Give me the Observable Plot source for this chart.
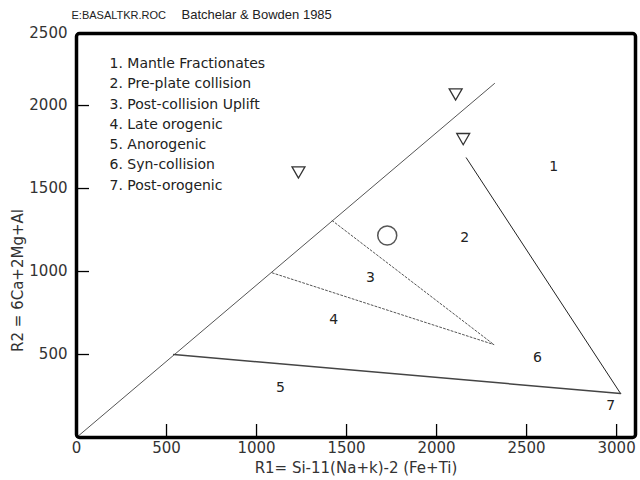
<!DOCTYPE html>
<html><head><meta charset="utf-8">
<script src="https://cdn.jsdelivr.net/npm/d3@7"></script>
<script src="https://cdn.jsdelivr.net/npm/@observablehq/plot@0.6"></script>
<style>body{margin:0;background:#fff;} #chart{width:640px;height:480px;}</style>
</head><body><div id="chart"></div>
<script>
const fileName = "E:BASALTKR.ROC";
const title = "Batchelar & Bowden 1985";
const xLabel = "R1= Si-11(Na+k)-2 (Fe+Ti)";
const yLabel = "R2 = 6Ca+2Mg+Al";
const xTicks = [0, 500, 1000, 1500, 2000, 2500, 3000];
const yTicks = [500, 1000, 1500, 2000];
const yTopLabel = "2500";
const xDomain = [0, 3105];
const yDomain = [0, 2434];

const legendItems = [
  "1. Mantle Fractionates",
  "2. Pre-plate collision",
  "3. Post-collision Uplift",
  "4. Late orogenic",
  "5. Anorogenic",
  "6. Syn-collision",
  "7. Post-orogenic"
];

// field boundaries (R1, R2)
const diagonalX = [0, 2322], diagonalY = [0, 2133];
const bound12X = [2165, 3022], bound12Y = [1685, 265];
const bound45X = [540, 3022], bound45Y = [500, 265];
const dash23X = [1420, 2318], dash23Y = [1307, 560];
const dash34X = [1087, 2318], dash34Y = [992, 560];

// samples
const triX = [2106, 2148, 1233];
const triY = [2078, 1809, 1608];
const circX = [1726];
const circY = [1217];

// field numbers
const fieldNames = ["1", "2", "3", "4", "5", "6", "7"];
const fieldX = [2650, 2156, 1633, 1428, 1133, 2561, 2967];
const fieldY = [1633, 1205, 964, 711, 301, 482, 193];

const toPts = (xs, ys) => xs.map((x, i) => ({x, y: ys[i]}));
const font = "DejaVu Sans, sans-serif";
const fmt = d => String(d);

const W = 640, H = 480, mL = 76, mT = 33, mR = 5, mB = 43;
const tickLen = 13; // px, inward ticks

const chart = Plot.plot({
  width: W, height: H,
  marginLeft: mL, marginTop: mT, marginRight: mR, marginBottom: mB,
  style: {fontFamily: font, fontSize: "14px", color: "#222", background: "#fff"},
  x: {domain: xDomain},
  y: {domain: yDomain},
  marks: [
    Plot.line(toPts(diagonalX, diagonalY), {x: "x", y: "y", stroke: "#555", strokeWidth: 1}),
    Plot.line(toPts(bound12X, bound12Y), {x: "x", y: "y", stroke: "#222", strokeWidth: 1}),
    Plot.line(toPts(bound45X, bound45Y), {x: "x", y: "y", stroke: "#444", strokeWidth: 1.5}),
    Plot.line(toPts(dash23X, dash23Y), {x: "x", y: "y", stroke: "#555", strokeWidth: 1, strokeDasharray: "2,2"}),
    Plot.line(toPts(dash34X, dash34Y), {x: "x", y: "y", stroke: "#555", strokeWidth: 1, strokeDasharray: "2,2"}),
    // inward tick marks: full-frame rules inset down to tickLen px
    Plot.ruleX(xTicks.slice(1), {x: d => d, insetTop: H - mT - mB - tickLen, stroke: "#000", strokeWidth: 1.3}),
    Plot.ruleY(yTicks, {y: d => d, insetRight: W - mL - mR - tickLen, stroke: "#000", strokeWidth: 1.3}),
    Plot.dot(toPts(triX, triY), {x: "x", y: "y", symbol: "triangle", rotate: 180, r: 4.8, stroke: "#333", strokeWidth: 1.3, fill: "none"}),
    Plot.dot(toPts(circX, circY), {x: "x", y: "y", r: 9.5, stroke: "#555", strokeWidth: 1.5, fill: "none"}),
    Plot.text(fieldNames, {x: (d, i) => fieldX[i], y: (d, i) => fieldY[i], text: d => d, fontSize: 14, fill: "#222"}),
    Plot.text([legendItems.join("\n")], {frameAnchor: "top-left", dx: 33, dy: 20, lineHeight: 1.45, textAnchor: "start", fontSize: 14, fill: "#222"}),
    Plot.axisX(xTicks, {anchor: "bottom", tickSize: 0, tickPadding: 5, tickFormat: fmt, fontSize: 15, fill: "#333", label: xLabel, labelAnchor: "center", labelArrow: "none", labelOffset: 35}),
    Plot.axisY(yTicks, {anchor: "left", tickSize: 0, tickPadding: 9, tickFormat: fmt, fontSize: 15, fill: "#333", label: null}),
    Plot.text([yTopLabel], {frameAnchor: "top-left", dx: -9, textAnchor: "end", lineAnchor: "middle", fontSize: 15, fill: "#333"}),
    Plot.text([yLabel], {frameAnchor: "left", rotate: -90, dx: -58, dy: 45, textAnchor: "middle", lineAnchor: "middle", fontSize: 15, fill: "#333"}),
    Plot.text([fileName], {frameAnchor: "top-left", dx: -5, dy: -18, textAnchor: "start", lineAnchor: "middle", fontSize: 11, fontFamily: "Liberation Sans, Arial, sans-serif", fill: "#222"}),
    Plot.text([title], {frameAnchor: "top-left", dx: 105, dy: -19, textAnchor: "start", lineAnchor: "middle", fontSize: 13, fontFamily: "Liberation Sans, Arial, sans-serif", fill: "#222"}),
    Plot.frame({stroke: "black", strokeWidth: 3.5, rx: 3})
  ]
});
document.getElementById("chart").appendChild(chart);
</script>
</body></html>
